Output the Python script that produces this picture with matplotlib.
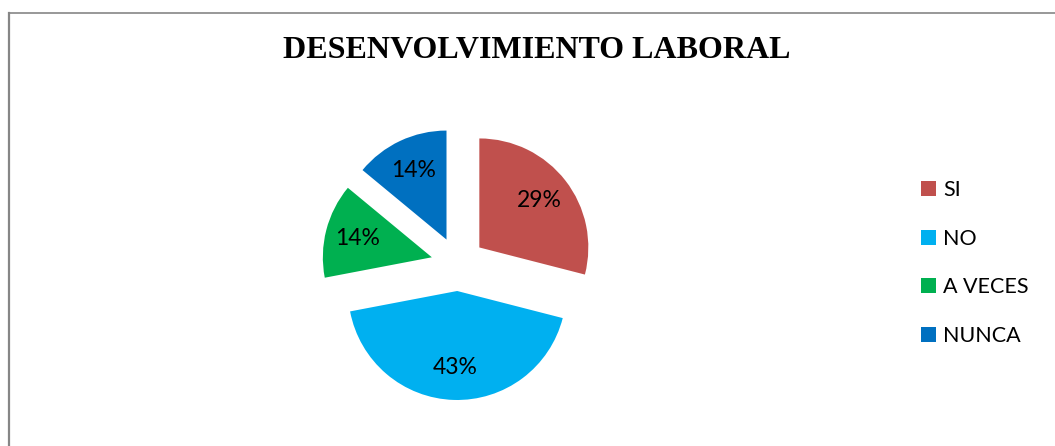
import matplotlib.pyplot as plt
from matplotlib.lines import Line2D

categories = ["SI", "NO", "A VECES", "NUNCA"]
values = [29, 43, 14, 14]
colors = ["#C0504D", "#00B0F0", "#00B050", "#0070C0"]
title = "DESENVOLVIMIENTO LABORAL"

W, H = 1055, 446
fig = plt.figure(figsize=(W / 100, H / 100), dpi=100)

# axes in pixel units so the pie lands where it sits in the reference
ax = fig.add_axes([0, 0, 1, 1])

wedges, texts, autotexts = ax.pie(
    values,
    colors=colors,
    startangle=90,
    counterclock=False,
    explode=[27] * len(values),  # pie explode is in data units, here pixels
    center=(458, H - 264),
    radius=109,
    autopct="%.0f%%",
    pctdistance=0.7,
    textprops={"fontsize": 16.5, "family": "Lato", "color": "black"},
    frame=True,
)
ax.set_xlim(0, W)
ax.set_ylim(0, H)
ax.axis("off")

fig.text(537 / W, 1 - 51 / H, title, ha="center", va="center",
         fontsize=23, fontweight="bold", family="Liberation Serif")

leg = fig.legend(wedges, categories, loc="center left",
                 bbox_to_anchor=(921 / W, 1 - 263 / H),
                 frameon=False, prop={"family": "Lato", "size": 15.5},
                 handlelength=0.7, handleheight=0.7, handletextpad=0.33,
                 labelspacing=1.33, borderpad=0, borderaxespad=0)

# chart frame (right and bottom edges fall outside the picture)
fig.add_artist(Line2D([9 / W, 9 / W], [0, 1 - 13 / H], color="#868686", lw=1.6,
                      transform=fig.transFigure))
fig.add_artist(Line2D([9 / W, 1], [1 - 13 / H, 1 - 13 / H], color="#868686", lw=1.2,
                      transform=fig.transFigure))

fig.savefig("out.png", dpi=100)
